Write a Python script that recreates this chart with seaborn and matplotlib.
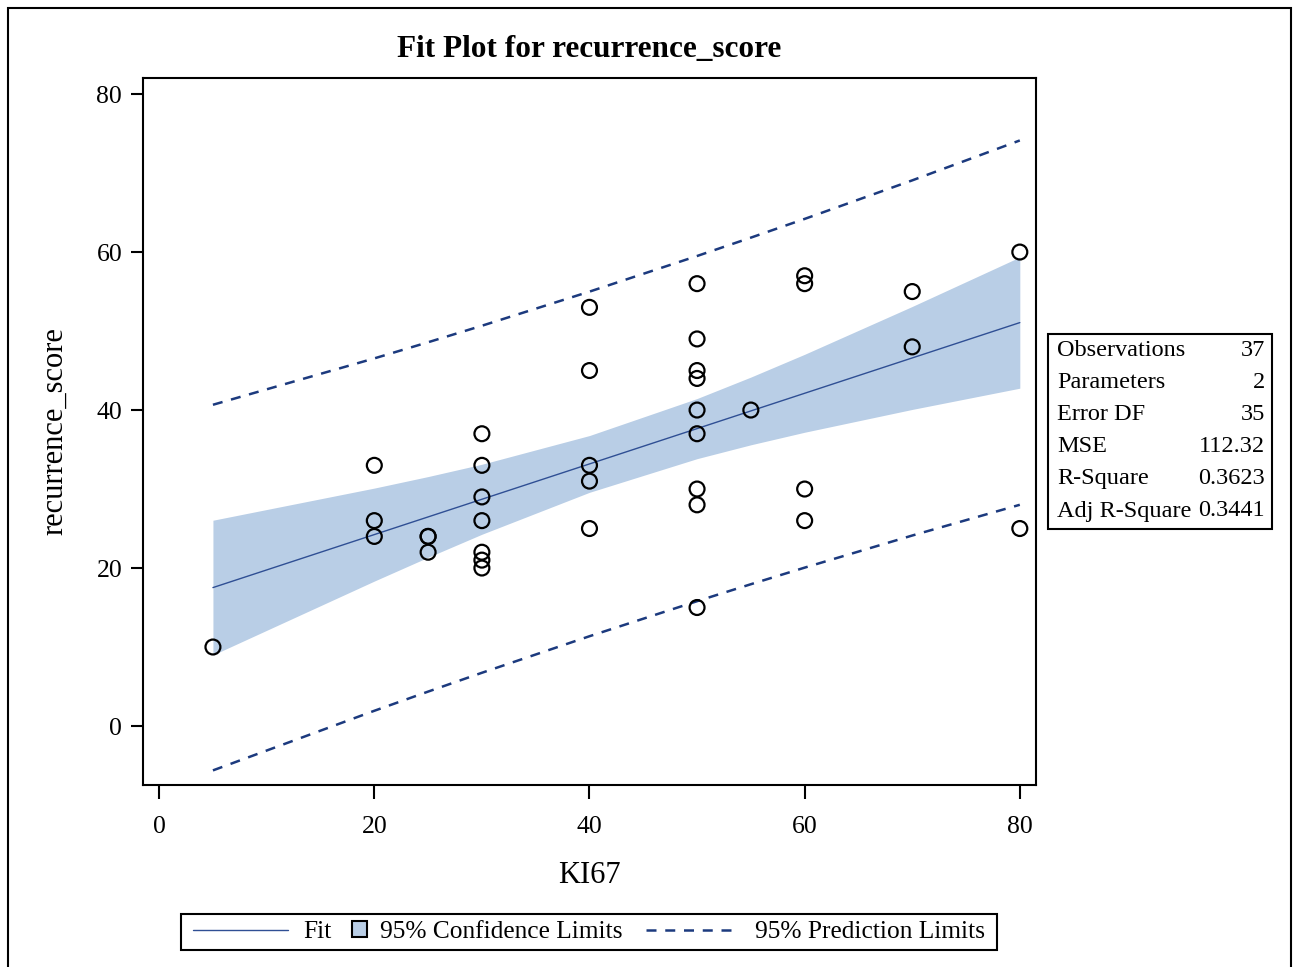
import numpy as np
import pandas as pd
import matplotlib
matplotlib.use("Agg")
import matplotlib.pyplot as plt
import seaborn as sns
from matplotlib.patches import Rectangle, Patch
from matplotlib.lines import Line2D

# observations (KI67 vs recurrence_score), 37 of them
ki67 = [5, 20, 20, 20, 25, 25, 25,
        30, 30, 30, 30, 30, 30, 30,
        40, 40, 40, 40, 40,
        50, 50, 50, 50, 50, 50, 50, 50, 50,
        55, 60, 60, 60, 60, 70, 70, 80, 80]
recurrence = [10, 33, 26, 24, 24, 24, 22,
              37, 33, 29, 26, 22, 21, 20,
              53, 45, 33, 31, 25,
              56, 49, 45, 44, 40, 37, 30, 28, 15,
              40, 57, 56, 30, 26, 55, 48, 60, 25]

stat_names = ["Observations", "Parameters", "Error DF", "MSE", "R-Square", "Adj R-Square"]
stat_values = ["37", "2", "35", "112.32", "0.3623", "0.3441"]

legend_labels = ["Fit", "95% Confidence Limits", "95% Prediction Limits"]

t_crit = 2.0301  # t(0.975, 35)

df = pd.DataFrame({"KI67": ki67, "recurrence_score": recurrence})

# least squares fit and limits, evaluated at the distinct x values
x = df["KI67"].to_numpy(float)
y = df["recurrence_score"].to_numpy(float)
n = len(x)
sxx = ((x - x.mean()) ** 2).sum()
slope = ((x - x.mean()) * (y - y.mean())).sum() / sxx
intercept = y.mean() - slope * x.mean()
mse = ((y - intercept - slope * x) ** 2).sum() / (n - 2)
xs = np.unique(x)
fit = intercept + slope * xs
se_mean = np.sqrt(mse * (1 / n + (xs - x.mean()) ** 2 / sxx))
se_pred = np.sqrt(mse * (1 + 1 / n + (xs - x.mean()) ** 2 / sxx))
band = pd.DataFrame({"x": xs, "fit": fit,
                     "cl_lo": fit - t_crit * se_mean, "cl_hi": fit + t_crit * se_mean,
                     "pl_lo": fit - t_crit * se_pred, "pl_hi": fit + t_crit * se_pred})

sns.set_theme(style="ticks")
plt.rcParams["font.family"] = ["Liberation Serif", "DejaVu Serif"]
plt.rcParams["text.color"] = "black"
plt.rcParams["axes.labelcolor"] = "black"
plt.rcParams["xtick.color"] = "black"
plt.rcParams["ytick.color"] = "black"

fill_col = "#b9cee6"
fit_col = "#2f4f94"
pred_col = "#1c3a7e"

fig = plt.figure(figsize=(12.93, 9.67), dpi=100)
ax = fig.add_axes([0.1106, 0.1882, 0.6906, 0.7311])

ax.fill_between(band["x"], band["cl_lo"], band["cl_hi"], color=fill_col, lw=0, zorder=1)
sns.lineplot(data=band, x="x", y="fit", color=fit_col, lw=1.0, ax=ax, zorder=2)
sns.lineplot(data=band, x="x", y="pl_lo", color=pred_col, lw=1.8, ax=ax, zorder=2)
sns.lineplot(data=band, x="x", y="pl_hi", color=pred_col, lw=1.8, ax=ax, zorder=2)
for ln in ax.lines[1:]:
    ln.set_dashes([4, 3.5])
sns.scatterplot(data=df, x="KI67", y="recurrence_score", marker="o", s=115,
                facecolor="none", edgecolor="black", linewidth=1.6, ax=ax, zorder=3)

ax.set_xlim(-1.5, 81.5)
ax.set_ylim(-7.47, 82.03)
ax.set_xticks([0, 20, 40, 60, 80])
ax.set_yticks([0, 20, 40, 60, 80])
ax.tick_params(axis="both", labelsize=18.5, width=1.5)
ax.tick_params(axis="y", length=9, pad=6)
ax.tick_params(axis="x", length=10, pad=12)
for sp in ax.spines.values():
    sp.set_visible(True)
    sp.set_linewidth(1.5)
    sp.set_color("black")

ax.set_xlabel("KI67", fontsize=22)
ax.set_ylabel("recurrence_score", fontsize=22)
ax.xaxis.set_label_coords(0.5, -0.107)
ax.yaxis.set_label_coords(-0.083, 0.5)
ax.set_title("Fit Plot for recurrence_score", fontsize=22.5, fontweight="bold", pad=15)

# fit statistics box
bx0, bx1 = 1048 / 1293, 1272 / 1293
by_top, by_bot = 1 - 334 / 967, 1 - 529 / 967
fig.patches.append(Rectangle((bx0, by_bot), bx1 - bx0, by_top - by_bot,
                             transform=fig.transFigure, fill=False, lw=1.5, ec="black"))
for i, (nm, val) in enumerate(zip(stat_names, stat_values)):
    yy = 1 - (350 + i * 32.2) / 967
    fig.text(1057 / 1293, yy, nm, fontsize=17.5, ha="left", va="center")
    fig.text(1265 / 1293, yy, val, fontsize=17.5, ha="right", va="center")

# legend at the bottom: one frame, three entries with their own handle sizes
fig.patches.append(Rectangle((181 / 1293, 1 - 950 / 967), 816 / 1293, 36 / 967,
                             transform=fig.transFigure, fill=False, lw=1.5, ec="black"))
leg_fs = 18.3
leg_y = 1 - 932 / 967
entries = [
    (Line2D([], [], color=fit_col, lw=1.0), 193, 95, 15),
    (Patch(facecolor=fill_col, edgecolor="black", lw=1.5), 352, 15, 13),
    (Line2D([], [], color=pred_col, lw=1.8, dashes=[4, 3.5]), 646, 90, 19),
]
em = leg_fs * 100 / 72
for (h, x0, hw, gap), lab in zip(entries, legend_labels):
    fig.legend([h], [lab], loc="center left", bbox_to_anchor=(x0 / 1293, leg_y),
               fontsize=leg_fs, frameon=False, borderpad=0, borderaxespad=0,
               handlelength=hw / em, handleheight=15 / em, handletextpad=gap / em)

# outer border of the graph
fig.patches.append(Rectangle((8 / 1293, -0.01), 1283 / 1293, 1 - 8 / 967 + 0.01,
                             transform=fig.transFigure, fill=False, lw=1.5, ec="black"))

fig.savefig("out.png", dpi=100)
